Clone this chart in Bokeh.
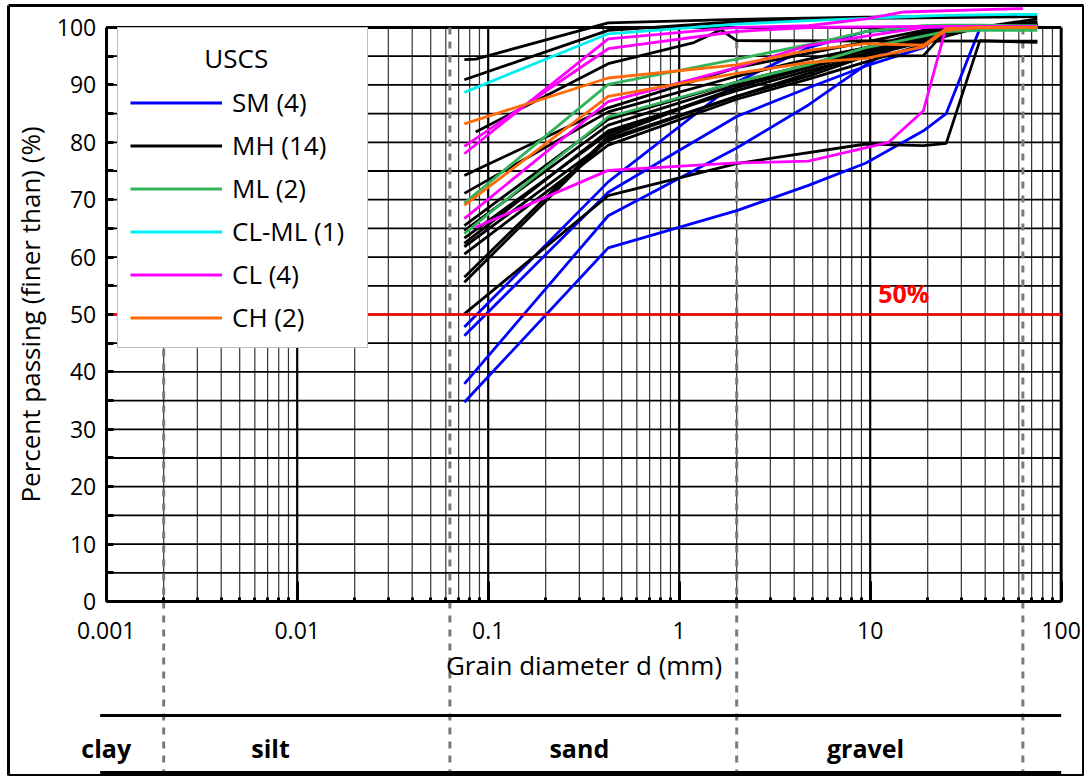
from bokeh.plotting import figure
from bokeh.models import (Range1d, FixedTicker, NumeralTickFormatter, Legend, LegendItem, Label)
from bokeh.embed import file_html
from bokeh.resources import INLINE

# ---------------------------------------------------------------------------
# Grain size distribution data: sieve opening (mm) vs. percent passing (%)
# ---------------------------------------------------------------------------
sieves = [0.075, 0.425, 2.0, 4.75, 9.5, 19.0, 25.0, 37.5, 75.0]

sm_tests = [
    (sieves, [47.8, 73.1, 90.5, 96.5, 99.3, 100.0, 100.0, 100.0, 100.2]),
    (sieves, [46.3, 71.3, 84.5, 89.5, 93.3, 96.5, 99.8, 100.0, 100.4]),
    (sieves, [37.9, 67.2, 79.0, 86.5, 93.5, 99.5, 100.0, 100.0, 100.3]),
    (sieves, [34.7, 61.6, 68.1, 72.5, 76.4, 82.0, 85.0, 99.8, 100.5]),
]

mh_tests = [
    ([0.075, 0.086, 0.425, 2.0, 9.5, 67.0], [94.4, 94.5, 100.8, 101.4, 101.8, 102.0]),
    ([0.075, 0.425, 2.0, 9.5, 75.0], [90.9, 99.5, 101.0, 101.6, 101.9]),
    ([0.086, 0.425, 1.18, 1.65, 2.0, 75.0], [81.8, 93.7, 97.3, 99.6, 97.7, 97.6]),
    ([0.075, 0.425, 2.0, 9.5, 19.0, 25.0, 37.5, 75.0], [50.1, 70.7, 76.3, 79.7, 79.4, 79.8, 97.7, 97.4]),
    (sieves, [74.2, 86.0, 93.0, 95.5, 97.5, 99.5, 100.0, 100.0, 100.5]),
    (sieves, [71.1, 85.3, 91.5, 94.5, 96.5, 98.5, 100.0, 100.0, 100.3]),
    (sieves, [64.6, 83.0, 90.0, 93.0, 95.5, 97.8, 99.5, 100.0, 100.2]),
    (sieves, [62.4, 82.0, 89.0, 92.5, 95.0, 97.5, 99.0, 100.0, 100.0]),
    (sieves, [61.8, 80.3, 88.0, 92.0, 95.5, 99.0, 100.0, 100.0, 100.0]),
    (sieves, [56.5, 81.0, 89.5, 93.5, 96.5, 99.2, 100.0, 100.0, 101.5]),
    (sieves, [55.6, 80.6, 88.0, 91.5, 95.0, 95.1, 99.5, 100.0, 100.0]),
    (sieves, [65.5, 84.0, 90.5, 93.5, 96.0, 98.0, 99.0, 100.0, 100.5]),
    (sieves, [63.3, 81.5, 89.5, 93.0, 96.0, 98.5, 99.5, 100.0, 101.0]),
    (sieves, [60.5, 79.5, 87.5, 91.0, 94.0, 97.0, 98.5, 100.0, 100.8]),
]

ml_tests = [
    (sieves, [69.4, 90.1, 94.5, 97.0, 99.3, 100.3, 100.4, 100.4, 100.3]),
    (sieves, [64.1, 84.4, 90.5, 93.5, 96.5, 98.5, 99.3, 99.5, 99.5]),
]

clml_tests = [
    (sieves, [88.7, 98.9, 100.6, 101.2, 101.6, 102.0, 102.1, 102.2, 102.3]),
]

cl_tests = [
    (sieves, [79.3, 96.3, 99.3, 100.0, 100.1, 100.2, 100.2, 100.2, 100.1]),
    ([0.075, 0.425, 2.0, 4.75, 9.5, 15.0, 63.0], [78.0, 98.0, 100.0, 100.3, 101.5, 102.7, 103.3]),
    (sieves, [66.7, 87.1, 93.0, 96.9, 98.5, 100.0, 100.1, 100.1, 100.0]),
    ([0.086, 0.425, 2.0, 4.75, 12.5, 19.0, 25.0, 75.0], [65.2, 75.1, 76.4, 76.7, 80.0, 85.5, 100.1, 100.1]),
]

ch_tests = [
    (sieves, [83.2, 91.2, 93.5, 96.0, 97.2, 96.9, 99.8, 100.0, 100.0]),
    (sieves, [69.0, 88.0, 92.0, 93.9, 94.6, 96.6, 99.5, 100.0, 100.0]),
]

groups = [
    ("SM (4)", "#0000ff", sm_tests),
    ("MH (14)", "#000000", mh_tests),
    ("ML (2)", "#33b35a", ml_tests),
    ("CL-ML (1)", "#00f0f0", clml_tests),
    ("CL (4)", "#ff00ff", cl_tests),
    ("CH (2)", "#ff6a0a", ch_tests),
]

# soil fraction boundaries (mm) and fraction names
boundaries = [0.002, 0.063, 2.0, 63.0]
fractions = ["clay", "silt", "sand", "gravel"]
fraction_x = [0.001, 0.00725, 0.30, 9.45]

decades = [0.001, 0.01, 0.1, 1, 10, 100]
minor_x = [m * d for d in decades[:-1] for m in range(2, 10)]
pct_lines = list(range(5, 100, 5))

FONT = "Open Sans"
NBSP = "\u00a0"

# The data frame fills the whole canvas; the axes sit at fixed positions inside it,
# which leaves room for the soil-fraction band underneath.
X_MIN, X_MAX = 10 ** -3.5534, 10 ** 2.122
Y_MIN, Y_MAX = -30.49, 104.70
Y_BAND_TOP = -19.86
Y_BAND_BOT = -29.8
Y_BAND_TXT = -25.44
X_BAND_START = 0.00093
BORDER_L, BORDER_R = 0.000308, 130.9
BORDER_T, BORDER_B = 103.83, -30.31

p = figure(width=1084, height=776, x_axis_type="log",
           x_range=Range1d(X_MIN, X_MAX), y_range=Range1d(Y_MIN, Y_MAX),
           output_backend="svg", toolbar_location=None, title=None,
           min_border=0, min_border_left=0, min_border_right=0,
           min_border_top=0, min_border_bottom=0)
p.outline_line_color = None
p.xgrid.visible = False
p.ygrid.visible = False
p.background_fill_color = "white"
p.border_fill_color = "white"

# ---- grid -------------------------------------------------------------------
p.segment(x0=minor_x, y0=0, x1=minor_x, y1=100, line_color="#333333", line_width=1.2, level="underlay")
p.segment(x0=decades[1:-1], y0=0, x1=decades[1:-1], y1=100, line_color="black", line_width=2.2, level="underlay")
p.segment(x0=0.001, y0=pct_lines, x1=100, y1=pct_lines, line_color="black", line_width=1.8, level="underlay")
# plot frame: 100 % line and right border
p.segment(x0=[0.001, 100], y0=[100, 0], x1=[100, 100], y1=[100, 100], line_color="black", line_width=3, level="underlay")

# ---- fraction boundaries (dashed) ------------------------------------------
p.segment(x0=boundaries, y0=100, x1=boundaries, y1=Y_MIN, line_color="#7a7a7a", line_width=3,
          line_dash="7 7", level="underlay")

# ---- curves -----------------------------------------------------------------
items = []
for name, color, tests in groups:
    first = None
    for d, pp in tests:
        r = p.line(d, pp, line_color=color, line_width=2.8)
        if first is None:
            first = r
    items.append(LegendItem(label=name, renderers=[first]))

p.segment(x0=0.001, y0=50, x1=100, y1=50, line_color="#ff0000", line_width=2.5)
p.add_layout(Label(x=15, y=53.8, text="50%", text_color="#ff0000", text_font=FONT,
                   text_font_size="25px", text_font_style="bold", text_align="center",
                   text_baseline="middle"))

# ---- axes -------------------------------------------------------------------
xa = p.xaxis[0]
xa.fixed_location = 0
xa.bounds = (0.001, 100)
xa.ticker = FixedTicker(ticks=decades, minor_ticks=minor_x)
xa.formatter = NumeralTickFormatter(format="0.[000]")
xa.axis_line_width = 3
xa.major_tick_in = 20
xa.major_tick_out = 0
xa.major_tick_line_width = 3
xa.minor_tick_in = 4
xa.minor_tick_out = 0
xa.minor_tick_line_width = 3
xa.major_label_standoff = 21
xa.major_label_text_font = FONT
xa.major_label_text_font_size = "23px"
xa.major_label_text_color = "black"
xa.axis_label = "Grain diameter d (mm)"
xa.axis_label_text_font = FONT
xa.axis_label_text_font_size = "26px"
xa.axis_label_text_font_style = "normal"
xa.axis_label_text_color = "black"
xa.axis_label_standoff = 4

ya = p.yaxis[0]
ya.fixed_location = 0.001
ya.bounds = (0, 100)
ya.ticker = FixedTicker(ticks=list(range(0, 101, 10)), minor_ticks=list(range(5, 100, 10)))
ya.axis_line_width = 3
ya.major_tick_in = 7
ya.major_tick_out = 0
ya.major_tick_line_width = 3
ya.minor_tick_in = 7
ya.minor_tick_out = 0
ya.minor_tick_line_width = 3
ya.major_label_standoff = 10
ya.major_label_text_font = FONT
ya.major_label_text_font_size = "23px"
ya.major_label_text_color = "black"
ya.axis_label = "Percent passing (finer than) (%)"
ya.axis_label_text_font = FONT
ya.axis_label_text_font_size = "26px"
ya.axis_label_text_font_style = "normal"
ya.axis_label_text_color = "black"
ya.axis_label_standoff = 6

# ---- legend -----------------------------------------------------------------
legend = Legend(items=items, location=(117, 428), title=NBSP * 11 + "USCS",
                title_text_font=FONT, title_text_font_size="26px", title_text_color="black",
                title_text_font_style="normal", title_standoff=8,
                label_text_font=FONT, label_text_font_size="26px", label_text_color="black",
                glyph_width=92, glyph_height=31, label_height=31, label_width=123,
                label_standoff=10, spacing=7, padding=12, margin=0,
                border_line_color="#808080", border_line_width=1,
                background_fill_color="white", background_fill_alpha=1.0)
p.add_layout(legend)

# ---- fraction band below the axis -------------------------------------------
p.segment(x0=X_BAND_START, y0=[Y_BAND_TOP, Y_BAND_BOT], x1=100, y1=[Y_BAND_TOP, Y_BAND_BOT],
          line_color="black", line_width=3)
for name, fx in zip(fractions, fraction_x):
    p.add_layout(Label(x=fx, y=Y_BAND_TXT, text=name, text_font=FONT, text_font_size="25px",
                       text_font_style="bold", text_color="black", text_align="center",
                       text_baseline="middle"))

# ---- outer border -----------------------------------------------------------
p.segment(x0=[BORDER_L, BORDER_R, BORDER_R, BORDER_L],
          y0=[BORDER_T, BORDER_T, BORDER_B, BORDER_B],
          x1=[BORDER_R, BORDER_R, BORDER_L, BORDER_L],
          y1=[BORDER_T, BORDER_B, BORDER_B, BORDER_T],
          line_color="black", line_width=3)

open("out.html", "w").write(file_html(p, INLINE))
